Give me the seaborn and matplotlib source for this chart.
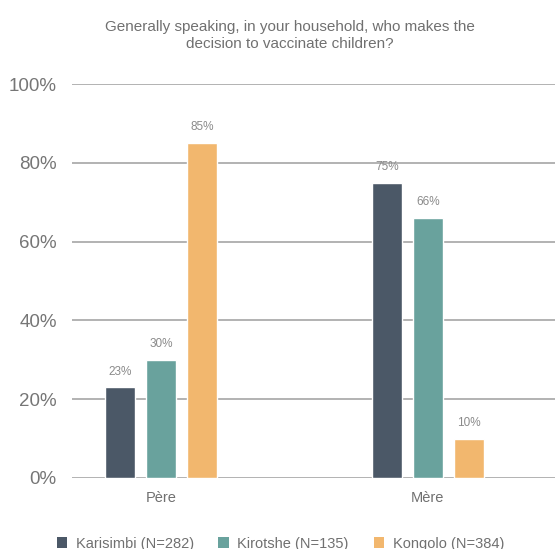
import matplotlib
matplotlib.use("Agg")
import matplotlib.pyplot as plt
import seaborn as sns
import pandas as pd
from matplotlib.patches import Patch

categories = ["Père", "Mère"]
series = ["Karisimbi (N=282)", "Kirotshe (N=135)", "Kongolo (N=384)"]
karisimbi = [23, 75]
kirotshe = [30, 66]
kongolo = [85, 10]
yticks = [0, 20, 40, 60, 80, 100]
colors = ["#4b5867", "#69a29d", "#f2b76e"]

rows = []
for s, vals in zip(series, [karisimbi, kirotshe, kongolo]):
    for c, v in zip(categories, vals):
        rows.append({"cat": c, "series": s, "value": v})
df = pd.DataFrame(rows)

sns.set_theme(style="white")
plt.rcParams["font.family"] = ["Liberation Sans", "DejaVu Sans"]

fig = plt.figure(figsize=(5.55, 5.49), dpi=100)
ax = fig.add_axes([72/555, 71/549, 483/555, 394/549])

sns.barplot(data=df, x="cat", y="value", hue="series", order=categories,
            hue_order=series, palette=colors, width=0.462, gap=0.27,
            saturation=1, ax=ax, legend=False, zorder=3)

for cont in ax.containers:
    ax.bar_label(cont, labels=[f"{v:.0f}%" for v in cont.datavalues],
                 padding=7, fontsize=8.5, color="#8a8a8a")

ax.set_ylim(0, 100)
ax.set_xlim(-0.333, 1.476)
ax.set_yticks(yticks)
ax.set_yticklabels([f"{t}%" for t in yticks])
ax.yaxis.grid(True, color="#a5a5a5", linewidth=1.2, zorder=0)
ax.set_axisbelow(True)
for sp in ax.spines.values():
    sp.set_visible(False)
ax.tick_params(axis="y", length=0, pad=11, labelsize=13.5, labelcolor="#767676")
ax.tick_params(axis="x", length=0, pad=9, labelsize=10.5, labelcolor="#707070")
ax.set_xlabel("")
ax.set_ylabel("")

fig.text(0.522, 0.936, "Generally speaking, in your household, who makes the\ndecision to vaccinate children?",
         ha="center", va="center", fontsize=11, color="#707070", linespacing=1.25)

handles = [Patch(facecolor=c, edgecolor="none", label=s) for c, s in zip(colors, series)]
fig.legend(handles=handles, loc="center", bbox_to_anchor=(0.505, 0.01), ncol=3,
           frameon=False, fontsize=10.5, labelcolor="#707070", handlelength=0.7,
           handleheight=0.7, columnspacing=1.7, handletextpad=0.6)

fig.savefig("out.png", dpi=100)
